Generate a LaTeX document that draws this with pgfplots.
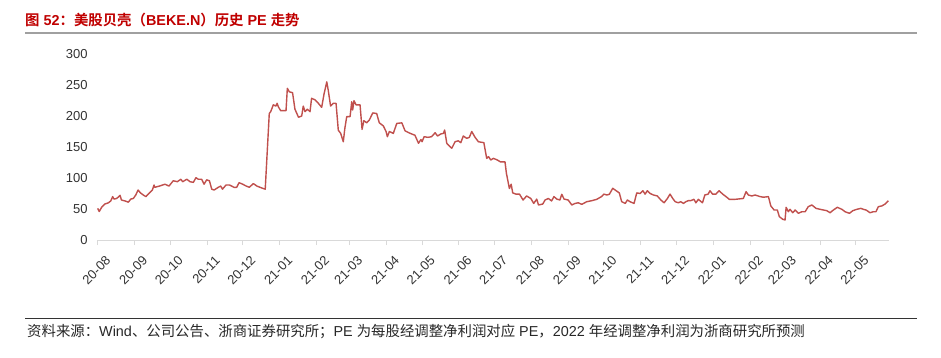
\documentclass[border=0pt]{standalone}
\usepackage{pgfplots}
\usepackage{pgfplotstable}
\pgfplotsset{compat=1.18}
\usepackage{fontspec}
\setmainfont{Liberation Sans}
\newfontfamily\cjk{Noto Sans CJK SC}[BoldFont={Noto Sans CJK SC Bold}]
\definecolor{linered}{RGB}{192,80,77}
\definecolor{titlered}{RGB}{192,0,0}
\definecolor{ticktext}{RGB}{51,51,51}
\definecolor{axisgray}{RGB}{217,217,217}
\definecolor{rulegray}{RGB}{160,160,160}
\definecolor{foottext}{RGB}{40,40,40}
\pgfplotstableread{
day pe
0 51
1.3 46
3.4 53
6 58
9 60
11 63
12.6 70
13.7 66
16 67
18.8 72
20 64.5
23 63
25.8 61
27.8 66
30 67
32 72.5
34 80.6
36 76
38.4 72.5
40.6 70
43.5 76
46 80.6
47.4 88.7
48 85
52 87
56.6 90
60 87
63.6 95.6
67 94
70 98
71.5 94
75 98
77.7 94
80.5 93
82.7 100.5
84.7 98
87.5 98
89.5 90
91.7 97
94 95.6
96 82
98 80.6
101.5 85
103.5 87
105 82
108 88.7
111 88.7
114.7 85
117 85
119 92.5
122 90
125 87
127.6 85
131 91
134 87
136.6 85
139.4 83
141 82
144.4 204
145.6 207
147.8 218
150 216
151 220.5
152 215
154 208.6
158.5 208.6
159.6 244.6
161.3 239
164 237.6
166 211
169 198
171.7 200
173 216
174.5 207
176.4 211
178.7 207
180 228.5
183 226
185.7 220.5
188.5 214
190.5 235.5
192.8 255
194 242
196 216
198.3 220.5
200.6 220.5
202.5 177
204.5 172
206.7 158.5
208 180
209.6 199
212.4 199
213.8 223
214.6 209.7
215.7 224.7
217.4 218
220.8 218
222.5 178.5
224 192.5
226.4 189
228.6 193.5
231.5 205
234.8 204
237 189
240.4 184
242.7 175
243.8 166.6
245.5 175
248.8 172
251.7 188
256 189
258.7 176
263 172
267 169
270 156
272 162
273 158.5
274.7 166.6
278 165.6
281 166.6
284 173
286 167.7
288.7 171
291 172
292 177.4
293.8 156
296.5 150.5
298 148
300.8 158.5
303.5 160
305.6 157
307.7 167.7
310.6 164
312.8 165.6
314.8 175
317.6 165.6
320.4 158.5
325 157
327.4 131.7
329 134.4
330.8 129
333 131.7
336.4 129
339 126
342.8 126
344 107.5
346.5 83
348 90
349.3 76
352 74
355 74
358 64.5
361 71
364.5 67
367 59
369.5 66
371 56.5
374.6 58
376.5 64.5
379.3 67
382 63
384 70
386.4 66
389 64.5
390.6 73.7
392.5 66
396 64.5
399 56.5
401.8 59
404.5 60
407.4 57.5
411.6 61.8
415.8 63.4
420 65.6
424 70
426 74
428.5 72.6
430.6 73.7
433.5 83.4
436.3 79.5
439 76
441 61.8
444 59
445.8 64.5
448 61.8
451.4 59
453.7 76
456.5 75
458.8 79.5
460.7 74
462.6 79.5
465 75
467.7 72.6
471 71
474 64.5
476.7 60
479.5 67
481.7 74
484 67
486 61.8
488.7 60
490.7 61.8
493 59
495 61.8
497 63.4
499 63.4
501.8 65.6
503.5 60
505.5 65.6
509 60
511 72.6
513.8 74
515.3 79.5
517.5 74
520.3 74
523 79.5
526 74
528.8 70
531.6 65.6
536.4 65.6
543.4 67
545.7 78
547.6 72.6
550.5 71
553.3 72.6
557.5 70
560.3 69
564.5 70
566.5 55
569.3 48.4
572 48.4
573.7 37.6
576.6 33.4
578.5 32.3
579.4 52.7
581.3 45.6
582.7 49.5
585 44
587 48.4
589.7 43
592.6 45.6
595.4 45.6
598 53.7
601 56.5
604.6 51
608 49.5
613.6 47.3
616.4 44
619.2 48.4
622.5 52.7
626.3 49.5
629 45.6
632.7 43
635.5 47.3
638.9 49.5
642.3 51
644.4 49.5
646.7 48.4
650 44
652.8 45.6
655 45.6
657 53.7
660 55
662.7 58
665.5 63.4
}\pedata
\begin{document}
\begin{tikzpicture}[x=1pt,y=1pt]
\path[use as bounding box, fill=white] (0,0) rectangle (941,357);
% title
\node[anchor=base west, inner sep=0pt, text=titlered, font=\fontsize{14.4}{16}\selectfont\bfseries] at (25,331)
  {{\cjk\bfseries 图} 52{\cjk\bfseries ：美股贝壳（}BEKE.N{\cjk\bfseries ）历史} PE {\cjk\bfseries 走势}};
\draw[rulegray, line width=2pt] (25,324) -- (917,324);
% footer
\draw[black!80, line width=1pt] (25,39) -- (917,39);
\node[anchor=base west, inner sep=0pt, text=foottext, font=\fontsize{14.4}{16}\selectfont] at (27,21)
  {{\cjk 资料来源：}Wind{\cjk 、公司公告、浙商证券研究所；}PE {\cjk 为每股经调整净利润对应} PE{\cjk ，}2022 {\cjk 年经调整净利润为浙商研究所预测}};
\begin{axis}[
  at={(97.7pt,117pt)}, anchor=south west,
  scale only axis, width=791.3pt, height=186pt,
  xmin=0, xmax=666, ymin=0, ymax=300,
  axis x line=bottom, axis y line=left,
  axis line style={-},
  y axis line style={draw=none},
  x axis line style={draw=axisgray, line width=1pt},
  ytick={0,50,100,150,200,250,300},
  ytick style={draw=none},
  xtick={0,31,61,92,122,153,184,212,243,273,304,334,365,396,426,457,487,518,549,577,608,638},
  xticklabels={20-08,20-09,20-10,20-11,20-12,21-01,21-02,21-03,21-04,21-05,21-06,21-07,21-08,21-09,21-10,21-11,21-12,22-01,22-02,22-03,22-04,22-05},
  xtick style={draw=axisgray, line width=1pt},
  tick align=outside, major tick length=5pt,
  tick label style={font=\fontsize{13}{15}\selectfont, text=ticktext},
  yticklabel style={anchor=east, inner sep=0pt, xshift=-5pt},
  xticklabel style={rotate=45, anchor=east, inner sep=0pt, xshift=-2pt, yshift=-17pt},
  /pgf/number format/assume math mode=true,
  clip=false,
]
\addplot[linered, line width=1.4pt, line join=round] table[x=day,y=pe] {\pedata};
\end{axis}
\end{tikzpicture}
\end{document}
